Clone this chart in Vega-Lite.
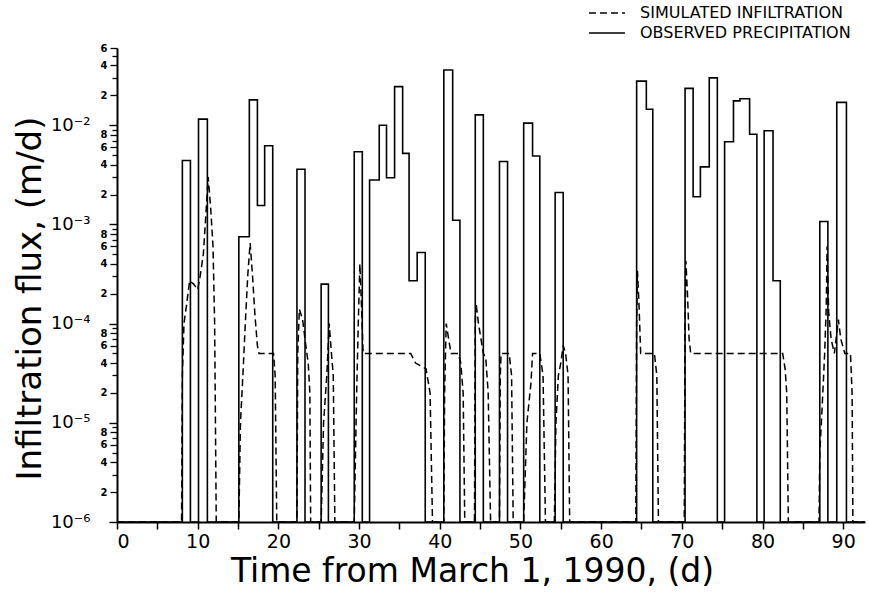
{
  "$schema": "https://vega.github.io/schema/vega-lite/v6.json",
  "width": 748,
  "height": 474,
  "autosize": {"type": "none"},
  "padding": {"left": 117, "top": 48, "right": 4, "bottom": 73},
  "background": "white",
  "config": {"view": {"stroke": null}, "font": "DejaVu Sans"},
  "resolve": {"axis": {"y": "independent"}},
  "datasets": {
    "precip": [
      {"t": 0, "v": 1e-6}, {"t": 8.1, "v": 4.4e-3}, {"t": 9.1, "v": 1e-6}, {"t": 10.1, "v": 1.15e-2}, {"t": 11.2, "v": 1e-6},
      {"t": 15.1, "v": 7.5e-4}, {"t": 16.4, "v": 1.8e-2}, {"t": 17.4, "v": 1.55e-3}, {"t": 18.3, "v": 6.2e-3}, {"t": 19.3, "v": 1e-6},
      {"t": 22.3, "v": 3.6e-3}, {"t": 23.3, "v": 1e-6}, {"t": 25.3, "v": 2.5e-4}, {"t": 26.2, "v": 1e-6},
      {"t": 29.4, "v": 5.4e-3}, {"t": 30.4, "v": 1e-6}, {"t": 31.3, "v": 2.8e-3}, {"t": 32.5, "v": 1.0e-2}, {"t": 33.4, "v": 2.95e-3},
      {"t": 34.4, "v": 2.45e-2}, {"t": 35.4, "v": 5.2e-3}, {"t": 36.2, "v": 2.7e-4}, {"t": 37.2, "v": 5.2e-4}, {"t": 38.2, "v": 1e-6},
      {"t": 40.5, "v": 3.6e-2}, {"t": 41.6, "v": 1.1e-3}, {"t": 42.5, "v": 1e-6}, {"t": 44.4, "v": 1.27e-2}, {"t": 45.4, "v": 1e-6},
      {"t": 47.4, "v": 4.3e-3}, {"t": 48.4, "v": 1e-6}, {"t": 50.4, "v": 1.05e-2}, {"t": 51.5, "v": 4.9e-3}, {"t": 52.4, "v": 1e-6},
      {"t": 54.3, "v": 2.1e-3}, {"t": 55.3, "v": 1e-6}, {"t": 64.4, "v": 2.78e-2}, {"t": 65.6, "v": 1.45e-2}, {"t": 66.4, "v": 1e-6},
      {"t": 70.4, "v": 2.35e-2}, {"t": 71.4, "v": 1.9e-3}, {"t": 72.3, "v": 3.8e-3}, {"t": 73.4, "v": 3.0e-2}, {"t": 74.4, "v": 1e-6},
      {"t": 75.3, "v": 6.8e-3}, {"t": 76.4, "v": 1.76e-2}, {"t": 77.2, "v": 1.85e-2}, {"t": 78.4, "v": 8.1e-3}, {"t": 79.3, "v": 1e-6},
      {"t": 80.2, "v": 8.8e-3}, {"t": 81.3, "v": 2.7e-4}, {"t": 82.2, "v": 1e-6}, {"t": 87.1, "v": 1.07e-3}, {"t": 88.1, "v": 1e-6},
      {"t": 89.2, "v": 1.7e-2}, {"t": 90.4, "v": 1e-6}, {"t": 92.7, "v": 1e-6}
    ],
    "sim": [
      {"t": 0, "v": 1e-6}, {"t": 8.0, "v": 1e-6}, {"t": 8.1, "v": 3e-5}, {"t": 8.3, "v": 1e-4}, {"t": 8.6, "v": 1.5e-4},
      {"t": 9.0, "v": 2.7e-4}, {"t": 9.5, "v": 2.5e-4}, {"t": 10.0, "v": 2.2e-4}, {"t": 10.3, "v": 3e-4}, {"t": 10.7, "v": 5e-4},
      {"t": 11.0, "v": 1.2e-3}, {"t": 11.3, "v": 3e-3}, {"t": 11.6, "v": 1.5e-3}, {"t": 11.9, "v": 6e-4}, {"t": 12.1, "v": 1e-4},
      {"t": 12.3, "v": 1e-6}, {"t": 15.1, "v": 1e-6}, {"t": 15.3, "v": 1e-5}, {"t": 15.6, "v": 3e-5}, {"t": 15.9, "v": 1e-4},
      {"t": 16.2, "v": 3e-4}, {"t": 16.5, "v": 6.5e-4}, {"t": 16.8, "v": 3e-4}, {"t": 17.1, "v": 1.2e-4}, {"t": 17.4, "v": 6e-5},
      {"t": 17.6, "v": 5e-5}, {"t": 19.4, "v": 5e-5}, {"t": 19.6, "v": 3e-5}, {"t": 19.8, "v": 1e-6},
      {"t": 22.3, "v": 1e-6}, {"t": 22.4, "v": 5e-5}, {"t": 22.6, "v": 1.4e-4}, {"t": 23.0, "v": 1.1e-4}, {"t": 23.4, "v": 6e-5},
      {"t": 23.7, "v": 4e-5}, {"t": 23.9, "v": 2e-5}, {"t": 24.0, "v": 1e-6},
      {"t": 25.3, "v": 1e-6}, {"t": 25.6, "v": 1e-5}, {"t": 26.0, "v": 3e-5}, {"t": 26.3, "v": 1e-4}, {"t": 26.5, "v": 6e-5},
      {"t": 26.8, "v": 3e-5}, {"t": 27.0, "v": 1e-6},
      {"t": 29.4, "v": 1e-6}, {"t": 29.7, "v": 2e-5}, {"t": 29.9, "v": 1e-4}, {"t": 30.1, "v": 4e-4}, {"t": 30.3, "v": 1.5e-4},
      {"t": 30.5, "v": 5e-5}, {"t": 36.4, "v": 5e-5}, {"t": 37.0, "v": 4e-5}, {"t": 38.3, "v": 3.5e-5}, {"t": 38.8, "v": 2e-5},
      {"t": 39.1, "v": 1e-6},
      {"t": 40.5, "v": 1e-6}, {"t": 40.6, "v": 2e-5}, {"t": 40.8, "v": 1e-4}, {"t": 41.1, "v": 7e-5}, {"t": 41.4, "v": 5e-5},
      {"t": 42.3, "v": 5e-5}, {"t": 42.6, "v": 4e-5}, {"t": 42.9, "v": 2e-5}, {"t": 43.1, "v": 1e-6},
      {"t": 44.3, "v": 1e-6}, {"t": 44.4, "v": 1e-4}, {"t": 44.5, "v": 1.6e-4}, {"t": 44.8, "v": 1e-4}, {"t": 45.4, "v": 5e-5},
      {"t": 45.7, "v": 4.5e-5}, {"t": 46.0, "v": 2e-5}, {"t": 46.3, "v": 1e-6},
      {"t": 47.4, "v": 1e-6}, {"t": 47.5, "v": 3e-5}, {"t": 47.6, "v": 5e-5}, {"t": 48.6, "v": 5e-5}, {"t": 48.9, "v": 3e-5},
      {"t": 49.1, "v": 1e-6},
      {"t": 50.4, "v": 1e-6}, {"t": 50.8, "v": 1e-5}, {"t": 51.3, "v": 2.5e-5}, {"t": 51.5, "v": 5e-5}, {"t": 52.4, "v": 5e-5},
      {"t": 52.8, "v": 3e-5}, {"t": 53.1, "v": 1e-6},
      {"t": 54.2, "v": 1e-6}, {"t": 54.4, "v": 1e-5}, {"t": 54.7, "v": 3e-5}, {"t": 55.0, "v": 4e-5}, {"t": 55.3, "v": 6e-5},
      {"t": 55.6, "v": 5e-5}, {"t": 55.9, "v": 3e-5}, {"t": 56.1, "v": 1e-6},
      {"t": 64.3, "v": 1e-6}, {"t": 64.4, "v": 1e-4}, {"t": 64.5, "v": 3.4e-4}, {"t": 64.7, "v": 1.5e-4}, {"t": 64.9, "v": 5e-5},
      {"t": 66.6, "v": 5e-5}, {"t": 66.9, "v": 3e-5}, {"t": 67.1, "v": 1e-6},
      {"t": 70.3, "v": 1e-6}, {"t": 70.4, "v": 1e-4}, {"t": 70.5, "v": 4.3e-4}, {"t": 70.7, "v": 2e-4}, {"t": 70.9, "v": 7e-5},
      {"t": 71.1, "v": 5e-5}, {"t": 82.5, "v": 5e-5}, {"t": 82.8, "v": 3.5e-5}, {"t": 83.0, "v": 2e-5}, {"t": 83.2, "v": 1e-6},
      {"t": 87.0, "v": 1e-6}, {"t": 87.1, "v": 5e-6}, {"t": 87.4, "v": 1.5e-5}, {"t": 87.7, "v": 5e-5}, {"t": 87.9, "v": 1.5e-4},
      {"t": 88.0, "v": 6e-4}, {"t": 88.2, "v": 1.3e-4}, {"t": 88.5, "v": 7e-5}, {"t": 88.9, "v": 5e-5}, {"t": 89.2, "v": 8e-5},
      {"t": 89.4, "v": 1.1e-4}, {"t": 89.7, "v": 7e-5}, {"t": 90.2, "v": 5e-5}, {"t": 90.9, "v": 5e-5}, {"t": 91.1, "v": 2e-5},
      {"t": 91.2, "v": 1e-6}, {"t": 92.7, "v": 1e-6}
    ]
  },
  "layer": [
    {
      "data": {"name": "precip"},
      "mark": {"type": "line", "interpolate": "step-after", "color": "black", "strokeWidth": 1.6},
      "encoding": {
        "x": {
          "field": "t", "type": "quantitative",
          "scale": {"domain": [0, 92.7], "nice": false, "zero": false},
          "axis": {
            "values": [0, 5, 10, 15, 20, 25, 30, 35, 40, 45, 50, 55, 60, 65, 70, 75, 80, 85, 90],
            "labelExpr": "datum.value % 10 == 0 ? datum.label : ''",
            "labelFontSize": 19, "labelColor": "black", "labelPadding": 3,
            "tickSize": 7, "tickWidth": 1.5, "tickColor": "black",
            "domainColor": "black", "domainWidth": 2,
            "grid": false,
            "title": "Time from March 1, 1990, (d)",
            "titleFontSize": 33, "titleFontWeight": "normal", "titleColor": "black", "titlePadding": 4,
            "titleX": 355, "titleAlign": "center"
          }
        },
        "y": {
          "field": "v", "type": "quantitative",
          "scale": {"type": "log", "domain": [1e-6, 6e-2], "nice": false},
          "axis": {
            "orient": "left",
            "values": [1e-6, 1e-5, 1e-4, 1e-3, 1e-2],
            "labelExpr": "'10' + (datum.value < 5e-6 ? '⁻⁶' : datum.value < 5e-5 ? '⁻⁵' : datum.value < 5e-4 ? '⁻⁴' : datum.value < 5e-3 ? '⁻³' : '⁻²')",
            "labelFontSize": 18, "labelColor": "black", "labelPadding": 19,
            "labelOverlap": false, "labelBound": false, "labelFlush": false,
            "tickSize": 8, "tickWidth": 1.4, "tickColor": "black",
            "domainColor": "black", "domainWidth": 2,
            "grid": false,
            "title": "Infiltration flux, (m/d)",
            "titleFontSize": 34, "titleFontWeight": "normal", "titleColor": "black", "titlePadding": 3,
            "titleY": 250, "titleAlign": "center"
          }
        },
        "strokeDash": {
          "datum": "OBSERVED PRECIPITATION",
          "type": "nominal",
          "scale": {"domain": ["SIMULATED INFILTRATION", "OBSERVED PRECIPITATION"], "range": [[7, 4], [1, 0]]},
          "legend": {
            "title": null, "orient": "none", "legendX": 479, "legendY": -46,
            "symbolType": "M-1.8,0H1.8", "symbolSize": 400, "symbolStrokeWidth": 1.6, "symbolStrokeColor": "black",
            "symbolFillColor": "transparent",
            "labelFontSize": 16, "labelColor": "black", "labelOffset": 22, "labelLimit": 0, "rowPadding": 1
          }
        }
      }
    },
    {
      "data": {"name": "sim"},
      "mark": {"type": "line", "color": "black", "strokeWidth": 1.5},
      "encoding": {
        "x": {"field": "t", "type": "quantitative"},
        "y": {
          "field": "v", "type": "quantitative",
          "axis": {
            "orient": "left",
            "values": [2e-6, 3e-6, 4e-6, 5e-6, 6e-6, 7e-6, 8e-6, 9e-6,
                       2e-5, 3e-5, 4e-5, 5e-5, 6e-5, 7e-5, 8e-5, 9e-5,
                       2e-4, 3e-4, 4e-4, 5e-4, 6e-4, 7e-4, 8e-4, 9e-4,
                       2e-3, 3e-3, 4e-3, 5e-3, 6e-3, 7e-3, 8e-3, 9e-3,
                       2e-2, 3e-2, 4e-2, 5e-2, 6e-2],
            "labelExpr": "round(datum.value/pow(10,floor(log(datum.value)/LN10+1e-6)))%2==0 ? ''+round(datum.value/pow(10,floor(log(datum.value)/LN10+1e-6))) : ''",
            "labelFontSize": 10, "labelFontWeight": "bold", "labelColor": "black", "labelPadding": 3,
            "labelOverlap": false, "labelBound": false, "labelFlush": false,
            "tickSize": {"condition": {"test": "round(datum.value/pow(10,floor(log(datum.value)/LN10+1e-6)))%2==0", "value": 7}, "value": 5},
            "tickWidth": 1.3, "tickColor": "black",
            "domain": false, "grid": false, "title": null
          }
        },
        "strokeDash": {"datum": "SIMULATED INFILTRATION", "type": "nominal"}
      }
    }
  ]
}
